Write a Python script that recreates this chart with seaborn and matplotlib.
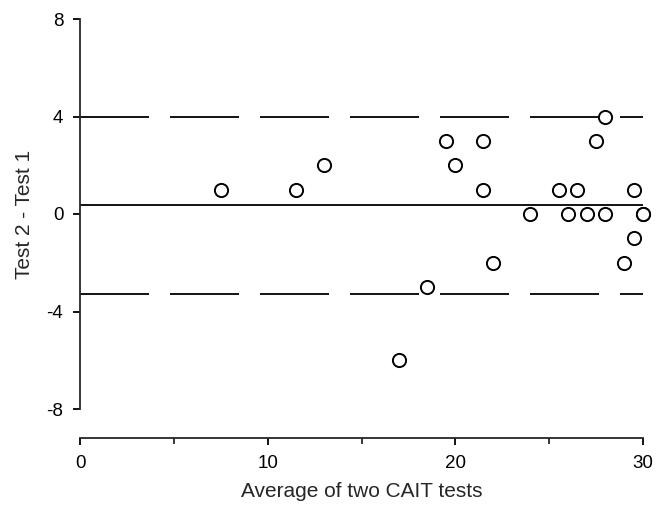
import matplotlib
matplotlib.use("Agg")
import matplotlib.pyplot as plt
import seaborn as sns
import pandas as pd

avg = [7.5, 11.5, 13, 17, 18.5, 19.5, 20, 21.5, 21.5, 22, 24, 25.5, 26, 26.5,
       27, 27.5, 28, 28, 29, 29.5, 29.5, 30, 30]
diff = [1, 1, 2, -6, -3, 3, 2, 3, 1, -2, 0, 1, 0, 1,
        0, 3, 4, 0, -2, -1, 1, 0, 0]
mean_diff = 0.35
upper_loa = 4.0
lower_loa = -3.3
x_ticks = [0, 10, 20, 30]
y_ticks = [8, 4, 0, -4, -8]

sns.set_style("ticks")
plt.rcParams['font.family'] = ['Liberation Sans', 'DejaVu Sans']

fig = plt.figure(figsize=(6.63, 5.14), dpi=100)
ax = fig.add_axes([80 / 663, 105 / 514, 563 / 663, 390 / 514])

df = pd.DataFrame({"avg": avg, "diff": diff})

lw = 1.3
ax.axhline(mean_diff, color="black", lw=lw, zorder=1)
for v in (upper_loa, lower_loa):
    ax.axhline(v, color="black", lw=lw, dashes=(49.7 / lw, 15.1 / lw), zorder=1)

sns.scatterplot(data=df, x="avg", y="diff", ax=ax, s=90, facecolor="white",
                edgecolor="black", linewidth=1.4, zorder=3, clip_on=False)

ax.set_xlim(0, 30)
ax.set_ylim(-8, 8)
ax.set_xticks(x_ticks)
ax.set_xticks([5, 15, 25], minor=True)
ax.set_yticks(y_ticks)
ax.set_yticklabels([str(t) for t in y_ticks])
ax.spines['top'].set_visible(False)
ax.spines['right'].set_visible(False)
ax.spines['bottom'].set_position(('outward', 21))
ax.spines['left'].set_linewidth(1.3)
ax.spines['bottom'].set_linewidth(1.3)
ax.tick_params(axis='both', which='major', direction='out', length=5, width=1.3,
               labelsize=13.5, colors='black', pad=7)
ax.tick_params(axis='x', which='minor', direction='out', length=4, width=1.3)
ax.set_xlabel("Average of two CAIT tests", fontsize=15, labelpad=7)
ax.set_ylabel("Test 2 - Test 1", fontsize=15, labelpad=9)

fig.savefig("out.png", dpi=100)
